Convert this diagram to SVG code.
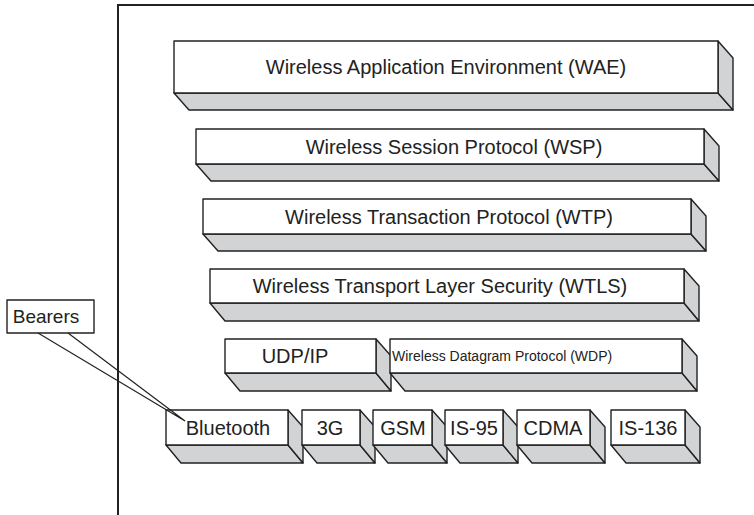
<svg xmlns="http://www.w3.org/2000/svg" width="754" height="515" viewBox="0 0 754 515">
<style>
.f{fill:#fff;stroke:#222;stroke-width:1.4;stroke-linejoin:round}
.s{fill:#d2d3d4;stroke:#222;stroke-width:1.4;stroke-linejoin:round}
.t{font-family:"Liberation Sans",Arial,sans-serif;font-size:20px;fill:#222;text-anchor:middle}
.fr{fill:none;stroke:#222;stroke-width:2}
.c{fill:none;stroke:#222;stroke-width:1.2}
</style>
<rect width="754" height="515" fill="#fff"/>
<path class="fr" d="M118,515 V5 H754"/>
<g id="wae">
<path class="s" d="M174,93 L189,110 H733 L718,93 Z"/>
<path class="s" d="M718,41 L733,58 V110 L718,93 Z"/>
<rect class="f" x="174" y="41" width="544" height="52"/>
<text class="t" x="446" y="74">Wireless Application Environment (WAE)</text>
</g>
<g id="wsp">
<path class="s" d="M196,164 L211,181 H719 L704,164 Z"/>
<path class="s" d="M704,129 L719,146 V181 L704,164 Z"/>
<rect class="f" x="196" y="129" width="508" height="35"/>
<text class="t" x="454" y="153.5">Wireless Session Protocol (WSP)</text>
</g>
<g id="wtp">
<path class="s" d="M203,234 L218,251 H706 L691,234 Z"/>
<path class="s" d="M691,199 L706,216 V251 L691,234 Z"/>
<rect class="f" x="203" y="199" width="488" height="35"/>
<text class="t" x="449" y="223.5">Wireless Transaction Protocol (WTP)</text>
</g>
<g id="wtls">
<path class="s" d="M210,303 L225,321 H699 L684,303 Z"/>
<path class="s" d="M684,269 L699,286 V321 L684,303 Z"/>
<rect class="f" x="210" y="269" width="474" height="34"/>
<text class="t" x="440" y="293">Wireless Transport Layer Security (WTLS)</text>
</g>
<g id="udpip">
<path class="s" d="M225,373 L240,391 H391 L376,373 Z"/>
<path class="s" d="M376,339 L391,356 V391 L376,373 Z"/>
<rect class="f" x="225" y="339" width="151" height="34"/>
<text class="t" x="295" y="363">UDP/IP</text>
</g>
<g id="wdp">
<path class="s" d="M390,373 L405,391 H697 L682,373 Z"/>
<path class="s" d="M682,339 L697,356 V391 L682,373 Z"/>
<rect class="f" x="390" y="339" width="292" height="34"/>
<text class="t" x="392" y="361" style="font-size:14px;text-anchor:start">Wireless Datagram Protocol (WDP)</text>
</g>
<g id="bluetooth">
<path class="s" d="M166,445 L181,463 H303 L288,445 Z"/>
<path class="s" d="M288,410 L303,427 V463 L288,445 Z"/>
<rect class="f" x="166" y="410" width="122" height="35"/>
<text class="t" x="228" y="434.5">Bluetooth</text>
</g>
<g id="g3">
<path class="s" d="M302,445 L317,463 H375 L360,445 Z"/>
<path class="s" d="M360,410 L375,427 V463 L360,445 Z"/>
<rect class="f" x="302" y="410" width="58" height="35"/>
<text class="t" x="330" y="434.5">3G</text>
</g>
<g id="gsm">
<path class="s" d="M373,445 L388,463 H447 L432,445 Z"/>
<path class="s" d="M432,410 L447,427 V463 L432,445 Z"/>
<rect class="f" x="373" y="410" width="59" height="35"/>
<text class="t" x="403" y="434.5">GSM</text>
</g>
<g id="is95">
<path class="s" d="M445,445 L460,463 H518 L503,445 Z"/>
<path class="s" d="M503,410 L518,427 V463 L503,445 Z"/>
<rect class="f" x="445" y="410" width="58" height="35"/>
<text class="t" x="474" y="434.5">IS-95</text>
</g>
<g id="cdma">
<path class="s" d="M517,445 L532,463 H605 L590,445 Z"/>
<path class="s" d="M590,410 L605,427 V463 L590,445 Z"/>
<rect class="f" x="517" y="410" width="73" height="35"/>
<text class="t" x="553" y="434.5">CDMA</text>
</g>
<g id="is136">
<path class="s" d="M611,445 L626,463 H700 L685,445 Z"/>
<path class="s" d="M685,410 L700,427 V463 L685,445 Z"/>
<rect class="f" x="611" y="410" width="74" height="35"/>
<text class="t" x="648" y="434.5">IS-136</text>
</g>
<g id="bearers">
<rect class="f" x="7" y="300" width="87" height="33"/>
<text class="t" x="46" y="323" style="font-size:19px">Bearers</text>
</g>
<g id="connectors">
<path class="c" d="M38,333 L185,421 L68,333"/>
</g>
</svg>
